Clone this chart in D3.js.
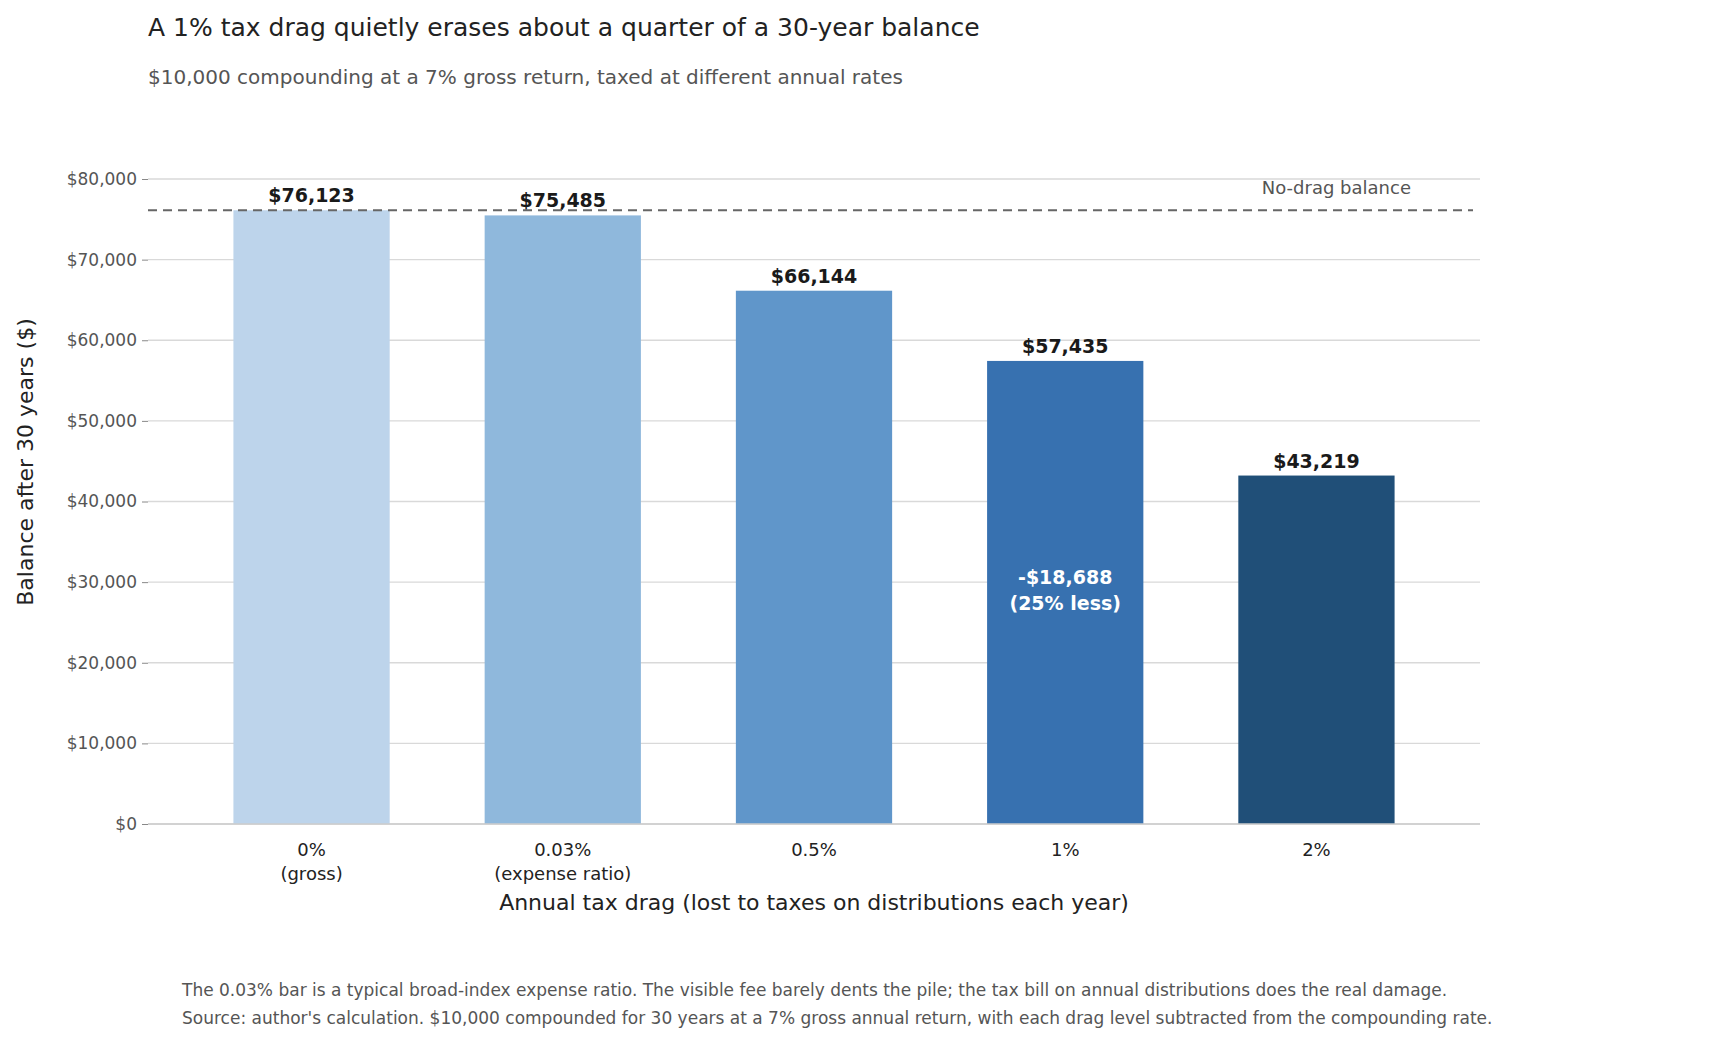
<!DOCTYPE html>
<html><head><meta charset="utf-8">
<script src="https://cdn.jsdelivr.net/npm/d3@7"></script>
<style>body{margin:0;background:#fff}text{font-family:"DejaVu Sans",sans-serif}</style>
</head><body><svg id="c" width="1714" height="1038"></svg>
<script>
const categories = ["0%|(gross)", "0.03%|(expense ratio)", "0.5%", "1%", "2%"];
const values = [76123, 75485, 66144, 57435, 43219];
const colors = ["#bdd4eb", "#8fb8dc", "#6096ca", "#3771b0", "#204f78"];
const yTicks = [0, 10000, 20000, 30000, 40000, 50000, 60000, 70000, 80000];
const baseline = 76123;

const svg = d3.select("#c");
const L = 148, R = 1480, T = 179, B = 824;
const y = d3.scaleLinear().domain([0, 80000]).range([B, T]);
const x = d3.scaleBand().domain(categories).range([L, R]).paddingInner(0.378).paddingOuter(0.34);
const fmt = d => "$" + d3.format(",")(d);

svg.append("text").attr("x", 148).attr("y", 36).attr("font-size", 25).attr("fill", "#222")
  .text("A 1% tax drag quietly erases about a quarter of a 30-year balance");
svg.append("text").attr("x", 148).attr("y", 84).attr("font-size", 20).attr("fill", "#555")
  .text("$10,000 compounding at a 7% gross return, taxed at different annual rates");

// grid
svg.append("g").selectAll("line").data(yTicks).join("line")
  .attr("x1", L).attr("x2", R).attr("y1", d => y(d)).attr("y2", d => y(d))
  .attr("stroke", "#d9d9d9").attr("stroke-width", 1.3);
const ya = svg.append("g").attr("transform", `translate(${L},0)`)
  .call(d3.axisLeft(y).tickValues(yTicks).tickFormat(fmt).tickSize(6).tickPadding(5));
ya.select(".domain").remove();
ya.selectAll("line").attr("stroke", "#888");
ya.selectAll("text").attr("font-size", 17).attr("fill", "#555");

svg.selectAll(".bar").data(values).join("rect")
  .attr("x", (d, i) => x(categories[i])).attr("width", x.bandwidth())
  .attr("y", d => y(d)).attr("height", d => B - y(d)).attr("fill", (d, i) => colors[i]);

svg.selectAll(".val").data(values).join("text")
  .attr("x", (d, i) => x(categories[i]) + x.bandwidth() / 2).attr("y", d => y(d) - 8)
  .attr("text-anchor", "middle").attr("font-size", 19).attr("font-weight", "bold").attr("fill", "#1a1a1a")
  .text(fmt);

// baseline
svg.append("line").attr("x1", L).attr("x2", 1473).attr("y1", y(baseline)).attr("y2", y(baseline))
  .attr("stroke", "#666").attr("stroke-width", 2).attr("stroke-dasharray", "9,6");
svg.append("text").attr("x", 1411).attr("y", 194).attr("text-anchor", "end").attr("font-size", 18).attr("fill", "#555").text("No-drag balance");

// annotation in 1% bar
const cx = x(categories[3]) + x.bandwidth() / 2;
const diff = baseline - values[3];
const a = svg.append("text").attr("x", cx).attr("text-anchor", "middle").attr("font-size", 19).attr("font-weight", "bold").attr("fill", "#fff");
a.append("tspan").attr("x", cx).attr("y", y(30000) + 2).text("-" + fmt(diff));
a.append("tspan").attr("x", cx).attr("y", y(30000) + 28).text("(" + Math.round(diff / baseline * 100) + "% less)");

// x axis
svg.append("line").attr("x1", L).attr("x2", R).attr("y1", B).attr("y2", B).attr("stroke", "#ccc").attr("stroke-width", 1.3);
categories.forEach(c => {
  const t = svg.append("text").attr("text-anchor", "middle").attr("font-size", 18).attr("fill", "#222");
  c.split("|").forEach((s, j) => t.append("tspan").attr("x", x(c) + x.bandwidth() / 2).attr("y", 856 + j * 24).text(s));
});
svg.append("text").attr("x", 814).attr("y", 910).attr("text-anchor", "middle").attr("font-size", 22).attr("fill", "#222")
  .text("Annual tax drag (lost to taxes on distributions each year)");
svg.append("text").attr("transform", "translate(33,462) rotate(-90)").attr("text-anchor", "middle").attr("font-size", 22).attr("fill", "#222")
  .text("Balance after 30 years ($)");

svg.append("text").attr("x", 182).attr("y", 996).attr("font-size", 17).attr("fill", "#555")
  .text("The 0.03% bar is a typical broad-index expense ratio. The visible fee barely dents the pile; the tax bill on annual distributions does the real damage.");
svg.append("text").attr("x", 182).attr("y", 1024).attr("font-size", 17).attr("fill", "#555")
  .text("Source: author's calculation. $10,000 compounded for 30 years at a 7% gross annual return, with each drag level subtracted from the compounding rate.");
</script></body></html>
